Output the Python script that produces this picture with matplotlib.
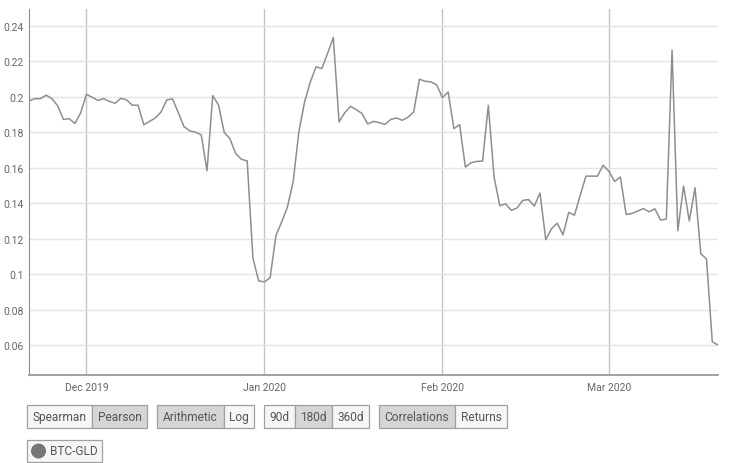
import matplotlib
matplotlib.use("Agg")
import matplotlib.pyplot as plt
import matplotlib.dates as mdates
from matplotlib.patches import Rectangle, Ellipse
from matplotlib.ticker import FuncFormatter
import pandas as pd

plt.rcParams['font.family'] = ['Roboto', 'DejaVu Sans']

# daily rolling correlation BTC vs GLD (180d window, Pearson)
dates = pd.date_range("2019-11-21", periods=121, freq="D")
corr = [
    0.1977, 0.199, 0.199, 0.201, 0.199, 0.195, 0.1873, 0.1877, 0.185, 0.191,
    0.2015, 0.1998, 0.198, 0.199, 0.1975, 0.1964, 0.1992, 0.1983, 0.1953, 0.1953,
    0.1843, 0.1862, 0.1881, 0.1915, 0.1983, 0.1989, 0.1911, 0.1832, 0.1808, 0.1801,
    0.1786, 0.1583, 0.2007, 0.1955, 0.18, 0.1764, 0.168, 0.1648, 0.1639, 0.109,
    0.0962, 0.0956, 0.098, 0.1218, 0.1294, 0.1378, 0.152, 0.1802, 0.1972, 0.2085,
    0.217, 0.216, 0.2245, 0.2335, 0.1859, 0.1911, 0.1947, 0.1928, 0.1906, 0.1847,
    0.1862, 0.1855, 0.1845, 0.1873, 0.1881, 0.1868, 0.1885, 0.1915, 0.21, 0.2088,
    0.2085, 0.2068, 0.1996, 0.2028, 0.1821, 0.1843, 0.1604, 0.1629, 0.1636, 0.1638,
    0.1953, 0.1548, 0.1386, 0.1397, 0.136, 0.1373, 0.1416, 0.1421, 0.1384, 0.1458,
    0.1195, 0.1256, 0.1288, 0.1222, 0.1348, 0.1333, 0.1444, 0.1553, 0.1553, 0.1553,
    0.1614, 0.158, 0.1523, 0.1548, 0.1337, 0.1342, 0.1356, 0.137, 0.1352, 0.1369,
    0.1305, 0.1311, 0.2263, 0.1245, 0.1497, 0.13, 0.1488, 0.1115, 0.1086, 0.0619,
    0.06,
]
month_ticks = pd.to_datetime(["2019-12-01", "2020-01-01", "2020-02-01", "2020-03-01"])
y_ticks = [0.06, 0.08, 0.10, 0.12, 0.14, 0.16, 0.18, 0.20, 0.22, 0.24]

# button groups: (label, selected, width in px)
button_groups = [
    [("Spearman", False, 65), ("Pearson", True, 55)],
    [("Arithmetic", True, 67), ("Log", False, 30)],
    [("90d", False, 31), ("180d", True, 37), ("360d", False, 37)],
    [("Correlations", True, 76), ("Returns", False, 52)],
]
series_label = "BTC-GLD"

W, H = 734, 464
fig = plt.figure(figsize=(W / 100, H / 100), dpi=100)
ax = fig.add_axes([29 / W, 1 - 376 / H, (718 - 29) / W, (376 - 10) / H])

ax.plot(dates, corr, color="#8e8e8e", lw=1.1)
ax.set_xlim(dates[0], dates[-1])
ax.set_ylim(0.0431, 0.2496)

ax.set_yticks(y_ticks)
ax.yaxis.set_major_formatter(FuncFormatter(lambda v, p: f"{v:g}"))
ax.set_xticks(month_ticks)
ax.xaxis.set_major_formatter(mdates.DateFormatter("%b %Y"))
ax.tick_params(axis="both", length=0, labelsize=7.5, labelcolor="#666666")
ax.tick_params(axis="y", pad=4)
ax.tick_params(axis="x", pad=5)

ax.grid(axis="y", color="#e4e4e4", lw=1)
ax.grid(axis="x", color="#c4c4c4", lw=1)
ax.set_axisbelow(True)
for s in ["top", "right"]:
    ax.spines[s].set_visible(False)
ax.spines["left"].set_color("#8c8c8c")
ax.spines["bottom"].set_color("#9a9a9a")
ax.spines["bottom"].set_linewidth(1.3)


def box(x0, y0, w, h, face):
    fig.add_artist(Rectangle((x0 / W, 1 - (y0 + h) / H), w / W, h / H,
                             transform=fig.transFigure, facecolor=face,
                             edgecolor="#a0a0a0", lw=0.9))


# control buttons
x = 27
top, bh = 406, 23
for group in button_groups:
    for label, sel, w in group:
        box(x, top, w, bh, "#d5d5d5" if sel else "#f6f6f6")
        fig.text((x + w / 2) / W, 1 - (top + bh / 2) / H, label, ha="center",
                 va="center", fontsize=8.6, color="#555555")
        x += w
    x += 10

# series legend chip
box(27, 441, 75, 22, "#f6f6f6")
fig.add_artist(Ellipse((38.5 / W, 1 - 452 / H), 14 / W, 14 / H,
                       transform=fig.transFigure, facecolor="#777777",
                       edgecolor="#666666", lw=0.6))
fig.text(50 / W, 1 - 452 / H, series_label, ha="left", va="center",
         fontsize=8.6, color="#555555")

fig.savefig("out.png", dpi=100)
